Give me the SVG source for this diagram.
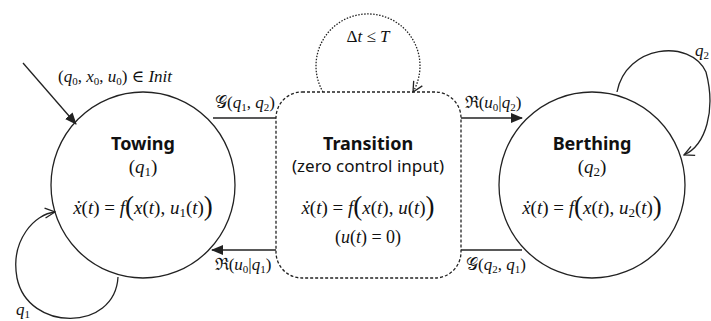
<svg xmlns="http://www.w3.org/2000/svg" width="711" height="321" viewBox="0 0 711 321">
<style>
.ln{fill:none;stroke:#222;stroke-width:1.3}
.ttl{font-family:"Noto Sans","Liberation Sans",sans-serif;font-weight:bold;font-size:18px;fill:#111;text-anchor:middle}
.sub{font-family:"Noto Sans","Liberation Sans",sans-serif;font-size:17px;fill:#111;text-anchor:middle}
.m{font-family:"Liberation Serif","DejaVu Serif",serif;font-size:17px;fill:#111}
.f{font-size:19px}
.i{font-style:italic}
.s{font-size:11px}
.f .s{font-size:13px}
.big{font-size:27px}
.ctr{text-anchor:middle}
</style>
<defs>
<marker id="af" markerWidth="12" markerHeight="10" refX="11" refY="5" orient="auto" markerUnits="userSpaceOnUse">
<path d="M0,0 L12,5 L0,10 z" fill="#222"/>
</marker>
<marker id="ao" markerWidth="12" markerHeight="12" refX="11" refY="6" orient="auto" markerUnits="userSpaceOnUse">
<path d="M1,1 L11,6 L1,11" fill="none" stroke="#222" stroke-width="1.3"/>
</marker>
</defs>
<g id="connectors">
<path class="ln" d="M23,63 L76,124" marker-end="url(#af)"/>
<path class="ln" d="M118,277 C115,332 28,332 17,278 C10,240 35,214 55,212" marker-end="url(#ao)"/>
<path class="ln" d="M617,92 C626,45 690,38 706,72 C716,110 706,145 684,155" marker-end="url(#ao)"/>
<path class="ln" d="M323,92 A52,52 0 1 1 413,92" stroke-dasharray="1.5 1.5" marker-end="url(#ao)"/>
<path class="ln" d="M213,118 L276,118"/>
<path class="ln" d="M461,118 L522,118" marker-end="url(#af)"/>
<path class="ln" d="M522,250 L461,250"/>
<path class="ln" d="M276,250 L212,250" marker-end="url(#af)"/>
<text class="m ctr" x="115" y="82">(<tspan class="i">q</tspan><tspan class="s" dy="3">0</tspan><tspan dy="-3">, </tspan><tspan class="i">x</tspan><tspan class="s" dy="3">0</tspan><tspan dy="-3">, </tspan><tspan class="i">u</tspan><tspan class="s" dy="3">0</tspan><tspan dy="-3">) ∈ </tspan><tspan class="i">Init</tspan></text>
<text class="m ctr" x="245" y="108">𝒢(<tspan class="i">q</tspan><tspan class="s" dy="3">1</tspan><tspan dy="-3">, </tspan><tspan class="i">q</tspan><tspan class="s" dy="3">2</tspan><tspan dy="-3">)</tspan></text>
<text class="m ctr" x="493" y="108">ℜ(<tspan class="i">u</tspan><tspan class="s" dy="3">0</tspan><tspan dy="-3">|</tspan><tspan class="i">q</tspan><tspan class="s" dy="3">2</tspan><tspan dy="-3">)</tspan></text>
<text class="m ctr" x="243" y="270">ℜ(<tspan class="i">u</tspan><tspan class="s" dy="3">0</tspan><tspan dy="-3">|</tspan><tspan class="i">q</tspan><tspan class="s" dy="3">1</tspan><tspan dy="-3">)</tspan></text>
<text class="m ctr" x="496" y="270">𝒢(<tspan class="i">q</tspan><tspan class="s" dy="3">2</tspan><tspan dy="-3">, </tspan><tspan class="i">q</tspan><tspan class="s" dy="3">1</tspan><tspan dy="-3">)</tspan></text>
<text class="m ctr" x="368" y="42">Δ<tspan class="i">t</tspan> ≤ <tspan class="i">T</tspan></text>
<text class="m" x="16" y="315"><tspan class="i">q</tspan><tspan class="s" dy="3">1</tspan></text>
<text class="m" x="695" y="56"><tspan class="i">q</tspan><tspan class="s" dy="3">2</tspan></text>
</g>
<g id="towing">
<ellipse class="ln" cx="143" cy="185" rx="92" ry="93"/>
<text class="ttl" x="143" y="150">Towing</text>
<text class="m ctr f" x="143" y="173">(<tspan class="i">q</tspan><tspan class="s" dy="3">1</tspan><tspan dy="-3">)</tspan></text>
<text class="m ctr f" x="143" y="214"><tspan class="i">ẋ</tspan>(<tspan class="i">t</tspan>) = <tspan class="i">f</tspan><tspan class="big" dy="1">(</tspan><tspan class="i" dy="-1">x</tspan>(<tspan class="i">t</tspan>), <tspan class="i">u</tspan><tspan class="s" dy="3">1</tspan><tspan dy="-3">(</tspan><tspan class="i">t</tspan>)<tspan class="big" dy="1">)</tspan></text>
</g>
<g id="transition">
<rect class="ln" x="276" y="92" width="185" height="186" rx="26" stroke-dasharray="3 2"/>
<text class="ttl" x="368" y="150">Transition</text>
<text class="sub" x="368" y="172">(zero control input)</text>
<text class="m ctr f" x="368" y="214"><tspan class="i">ẋ</tspan>(<tspan class="i">t</tspan>) = <tspan class="i">f</tspan><tspan class="big" dy="1">(</tspan><tspan class="i" dy="-1">x</tspan>(<tspan class="i">t</tspan>), <tspan class="i">u</tspan>(<tspan class="i">t</tspan>)<tspan class="big" dy="1">)</tspan></text>
<text class="m ctr" x="368" y="243" style="font-size:18px">(<tspan class="i">u</tspan>(<tspan class="i">t</tspan>) = 0)</text>
</g>
<g id="berthing">
<ellipse class="ln" cx="592" cy="185" rx="93" ry="93"/>
<text class="ttl" x="592" y="150">Berthing</text>
<text class="m ctr f" x="592" y="173">(<tspan class="i">q</tspan><tspan class="s" dy="3">2</tspan><tspan dy="-3">)</tspan></text>
<text class="m ctr f" x="592" y="214"><tspan class="i">ẋ</tspan>(<tspan class="i">t</tspan>) = <tspan class="i">f</tspan><tspan class="big" dy="1">(</tspan><tspan class="i" dy="-1">x</tspan>(<tspan class="i">t</tspan>), <tspan class="i">u</tspan><tspan class="s" dy="3">2</tspan><tspan dy="-3">(</tspan><tspan class="i">t</tspan>)<tspan class="big" dy="1">)</tspan></text>
</g>
</svg>
